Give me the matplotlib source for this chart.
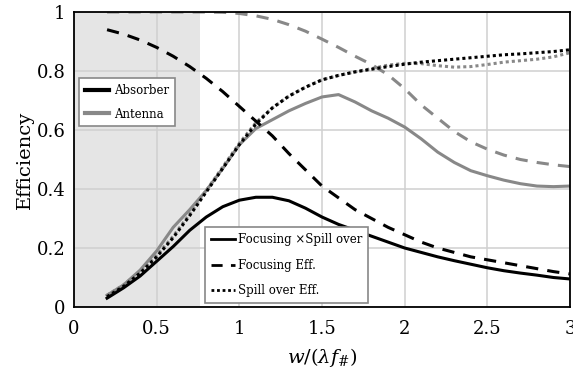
import matplotlib
matplotlib.use("Agg")
import matplotlib.pyplot as plt
from matplotlib.lines import Line2D
import numpy as np

plt.rcParams['font.family'] = ['DejaVu Serif']
plt.rcParams['mathtext.fontset'] = 'dejavuserif'

x = [0.2, 0.3, 0.4, 0.5, 0.6, 0.7, 0.8, 0.9, 1.0, 1.1, 1.2, 1.3, 1.4, 1.5, 1.6,
     1.7, 1.8, 1.9, 2.0, 2.1, 2.2, 2.3, 2.4, 2.5, 2.6, 2.7, 2.8, 2.9, 3.0]

abs_product = [0.03, 0.065, 0.105, 0.155, 0.205, 0.26, 0.305, 0.34, 0.362, 0.372,
               0.372, 0.36, 0.335, 0.305, 0.28, 0.26, 0.24, 0.22, 0.20, 0.185,
               0.17, 0.157, 0.145, 0.133, 0.123, 0.115, 0.108, 0.10, 0.095]
abs_focus = [0.94, 0.925, 0.905, 0.88, 0.85, 0.815, 0.775, 0.73, 0.68, 0.63,
             0.58, 0.52, 0.465, 0.41, 0.37, 0.33, 0.30, 0.27, 0.245, 0.22,
             0.20, 0.185, 0.17, 0.16, 0.15, 0.14, 0.13, 0.12, 0.112]
abs_spill = [0.035, 0.07, 0.115, 0.17, 0.235, 0.31, 0.39, 0.47, 0.55, 0.62,
             0.675, 0.715, 0.745, 0.77, 0.785, 0.797, 0.806, 0.815, 0.823, 0.83,
             0.835, 0.84, 0.845, 0.85, 0.855, 0.858, 0.862, 0.866, 0.872]

ant_product = [0.04, 0.075, 0.125, 0.19, 0.27, 0.33, 0.395, 0.47, 0.55, 0.605,
               0.635, 0.665, 0.69, 0.712, 0.72, 0.695, 0.665, 0.64, 0.61, 0.57,
               0.525, 0.49, 0.462, 0.445, 0.43, 0.418, 0.41, 0.408, 0.41]
ant_focus = [1.0, 1.0, 1.0, 1.0, 1.0, 1.0, 1.0, 0.999, 0.995, 0.987,
             0.975, 0.957, 0.935, 0.908, 0.88, 0.85, 0.822, 0.787, 0.74, 0.685,
             0.64, 0.595, 0.56, 0.535, 0.515, 0.5, 0.49, 0.482, 0.476]
ant_spill = [0.04, 0.075, 0.12, 0.175, 0.24, 0.315, 0.395, 0.475, 0.555, 0.625,
             0.675, 0.715, 0.745, 0.77, 0.785, 0.797, 0.808, 0.82, 0.826, 0.825,
             0.818, 0.813, 0.815, 0.822, 0.83, 0.835, 0.84, 0.848, 0.862]

shade_end = 0.76
xticks = [0, 0.5, 1, 1.5, 2, 2.5, 3]
yticks = [0, 0.2, 0.4, 0.6, 0.8, 1]

fig = plt.figure(figsize=(5.73, 3.71), dpi=100)
ax = fig.add_axes([74/573, 1 - 307/371, (570-74)/573, (307-12)/371])

ax.axvspan(0, shade_end, color='#e5e5e5', zorder=0, lw=0)

gray = '#888888'
lw = 2.2
dash = (0, (4, 3))
dot = (0, (1, 1))

ax.plot(x, ant_focus, color=gray, lw=lw, linestyle=dash, zorder=2)
ax.plot(x, ant_spill, color=gray, lw=lw, linestyle=dot, zorder=2)
ax.plot(x, ant_product, color=gray, lw=lw, zorder=2)

ax.plot(x, abs_focus, color='black', lw=lw, linestyle=dash, zorder=3)
ax.plot(x, abs_spill, color='black', lw=lw, linestyle=dot, zorder=3)
ax.plot(x, abs_product, color='black', lw=lw, zorder=3)

ax.set_xlim(0, 3)
ax.set_ylim(0, 1)
ax.set_xticks(xticks)
ax.set_yticks(yticks)
ax.set_xticklabels([f"{t:g}" for t in xticks])
ax.set_yticklabels([f"{t:g}" for t in yticks])
ax.tick_params(axis='x', length=0, labelsize=13, pad=9)
ax.tick_params(axis='y', length=0, labelsize=13, pad=6)
ax.grid(True, color='#d0d0d0', lw=1.1, zorder=1)
ax.set_axisbelow(True)
for s in ax.spines.values():
    s.set_linewidth(1.3)

ax.set_xlabel(r'$w/(\lambda f_\#)$', fontsize=14, labelpad=6)
ax.set_ylabel('Efficiency', fontsize=14, labelpad=2)

h1 = [Line2D([], [], color='black', lw=3), Line2D([], [], color=gray, lw=3)]
leg1 = ax.legend(h1, ['Absorber', 'Antenna'], loc='upper left',
                 bbox_to_anchor=(5/496, (307-78)/295), borderaxespad=0, fontsize=8.5,
                 fancybox=False, edgecolor=gray, framealpha=1,
                 handlelength=2.0, handletextpad=0.5, labelspacing=0.9, borderpad=0.5)
leg1.get_frame().set_linewidth(1.2)
ax.add_artist(leg1)

h2 = [Line2D([], [], color='black', lw=2),
      Line2D([], [], color='black', lw=2, linestyle=(0, (4, 3))),
      Line2D([], [], color='black', lw=2, linestyle=(0, (1, 1)))]
leg2 = ax.legend(h2, ['Focusing ×Spill over', 'Focusing Eff.', 'Spill over Eff.'],
                 loc='lower left', bbox_to_anchor=((205-74)/496, 4/295), borderaxespad=0,
                 fontsize=8.5, fancybox=False, edgecolor=gray, framealpha=1,
                 handlelength=2.0, handletextpad=0.3, labelspacing=1.05, borderpad=0.5)
leg2.get_frame().set_linewidth(1.2)

fig.savefig('out.png', dpi=100)
